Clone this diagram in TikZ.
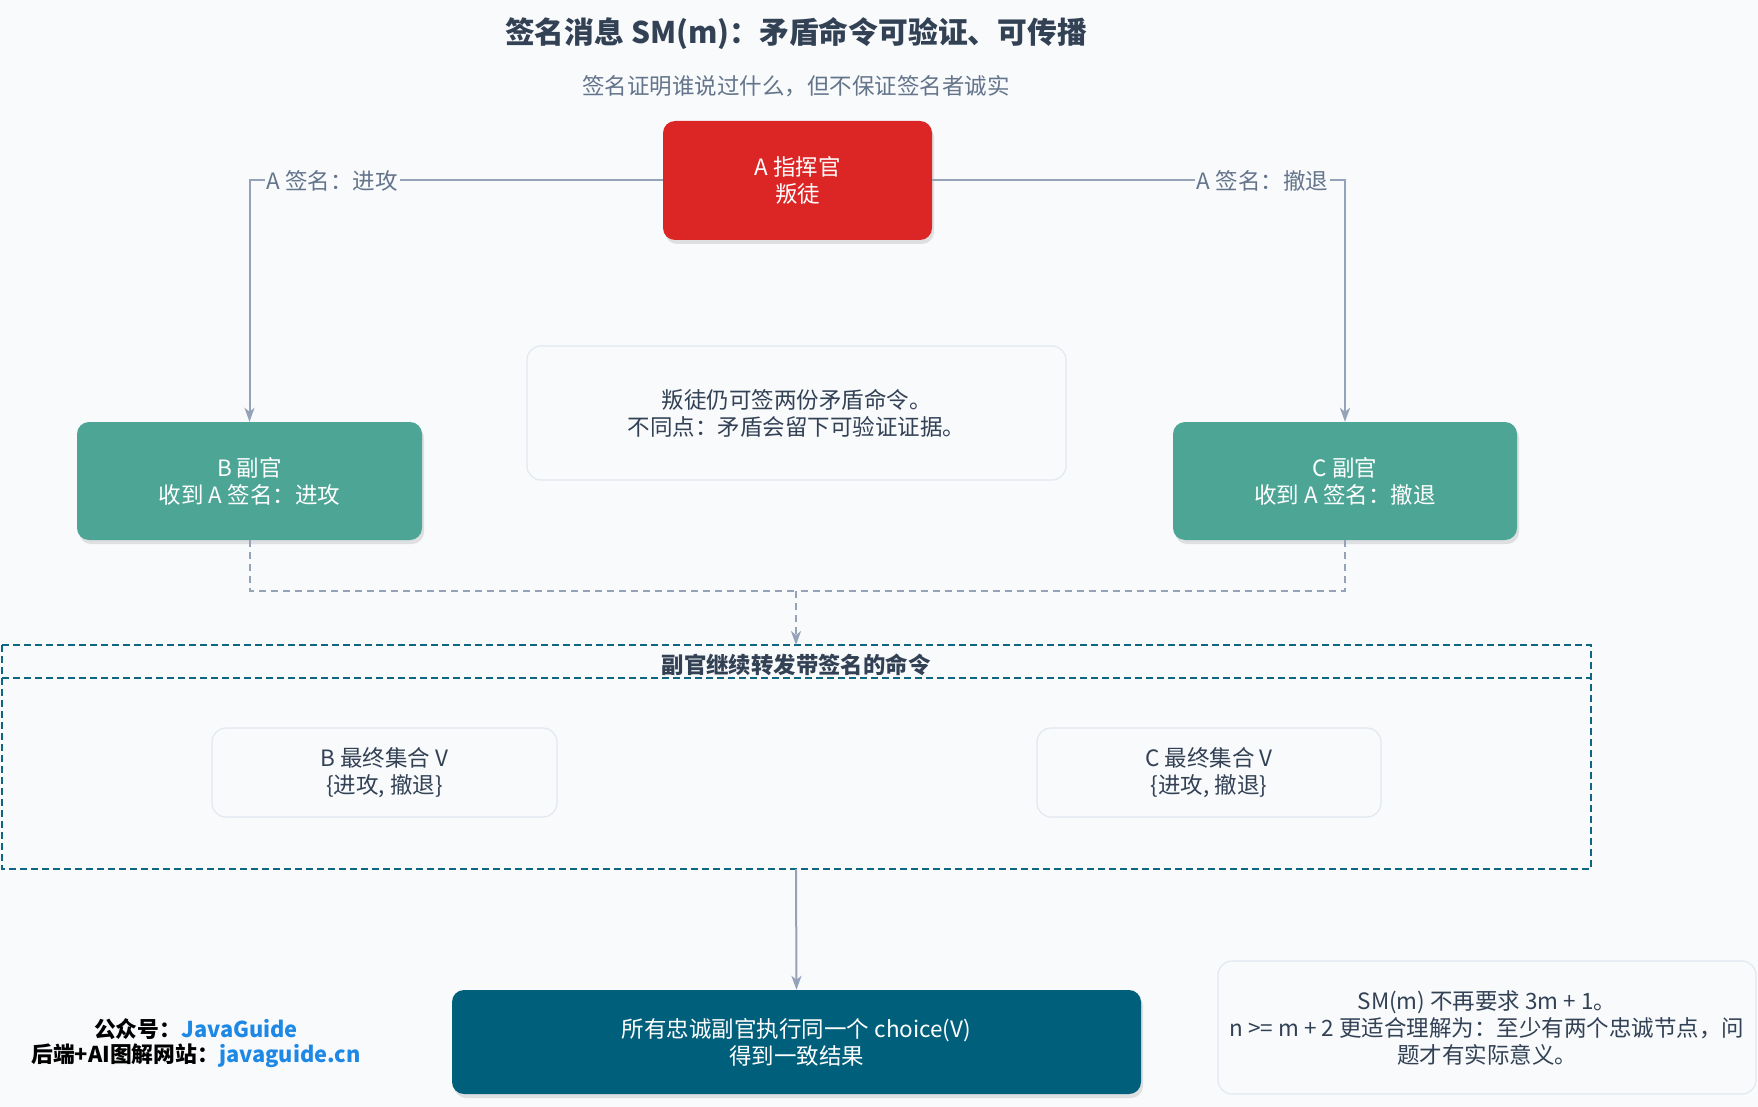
\documentclass[tikz,border=0pt]{standalone}
\usepackage{fontspec}
\setmainfont{Noto Sans CJK SC}
\usetikzlibrary{arrows.meta,shadows,positioning}
\definecolor{bg}{HTML}{F8FAFC}
\definecolor{txt}{HTML}{334155}
\definecolor{sub}{HTML}{64748B}
\definecolor{conn}{HTML}{94A3B8}
\definecolor{redbox}{HTML}{DC2626}
\definecolor{tealbox}{HTML}{4CA595}
\definecolor{darkteal}{HTML}{005F7B}
\definecolor{grpline}{HTML}{0E6683}
\definecolor{noteline}{HTML}{E2E8F0}
\definecolor{linkblue}{HTML}{1E88E5}
\tikzset{
  boxbase/.style={rounded corners=12pt, align=center, font=\fontsize{22.5}{27}\selectfont, inner sep=0pt,
     drop shadow={opacity=0.22, shadow xshift=2pt, shadow yshift=-4pt}},
  notebox/.style={rounded corners=14pt, draw=noteline, line width=1.2pt, fill=bg, align=center, text=txt,
     font=\fontsize{22.5}{27}\selectfont, inner sep=0pt},
  conline/.style={draw=conn, line width=2pt},
  arr/.style={-{Stealth[length=14pt,width=10pt,inset=4pt]}},
  lbl/.style={fill=bg, text=sub, font=\fontsize{22.5}{27}\selectfont, inner sep=2pt},
}
\begin{document}
\begin{tikzpicture}[x=1pt,y=-1pt]
\useasboundingbox[fill=bg] (0,0) rectangle (1758,1107);
% titles
\node[font=\bfseries\fontsize{29.8}{34}\selectfont, text=txt] (title) at (796,34) {签名消息 SM(m)：矛盾命令可验证、可传播};
\node[font=\fontsize{22.5}{27}\selectfont, text=sub] (subtitle) at (796,86) {签名证明谁说过什么，但不保证签名者诚实};
% main nodes
\node[boxbase, fill=redbox, text=white, minimum width=269pt, minimum height=119pt] (A) at (797.5,180.5) {A 指挥官\\叛徒};
\node[boxbase, fill=tealbox, text=white, minimum width=345pt, minimum height=118pt] (B) at (249.5,481) {B 副官\\收到 A 签名：进攻};
\node[boxbase, fill=tealbox, text=white, minimum width=344pt, minimum height=118pt] (C) at (1345,481) {C 副官\\收到 A 签名：撤退};
\node[notebox, minimum width=539pt, minimum height=134pt] (N1) at (796.5,413) {叛徒仍可签两份矛盾命令。\\不同点：矛盾会留下可验证证据。};
% group
\draw[grpline, line width=2.5pt, dash pattern=on 7pt off 4pt] (2,645) rectangle (1591,869);
\draw[grpline, line width=2.5pt, dash pattern=on 7pt off 4pt] (2,678) -- (1591,678);
\node[font=\bfseries\fontsize{22.4}{27}\selectfont, text=txt] (gtitle) at (796,665) {副官继续转发带签名的命令};
\coordinate (gtop) at (796,645);
\coordinate (gbot) at (796,869);
\node[notebox, minimum width=345pt, minimum height=89pt] (BV) at (384.5,772.5) {B 最终集合 V\\\{进攻, 撤退\}};
\node[notebox, minimum width=344pt, minimum height=89pt] (CV) at (1209,772.5) {C 最终集合 V\\\{进攻, 撤退\}};
% final
\node[boxbase, fill=darkteal, text=white, minimum width=689pt, minimum height=104pt] (F) at (796.5,1042) {所有忠诚副官执行同一个 choice(V)\\得到一致结果};
\node[notebox, minimum width=538pt, minimum height=133pt] (N2) at (1487,1027.5) {SM(m) 不再要求 3m + 1。\\n >= m + 2 更适合理解为：至少有两个忠诚节点，问\\题才有实际意义。};
% connectors
\draw[conline, arr] (A.west) -| node[lbl, pos=0.40] {A 签名：进攻} (B.north);
\draw[conline, arr] (A.east) -| node[lbl, pos=0.40] {A 签名：撤退} (C.north);
\coordinate (mid) at (796,591);
\draw[conline, dash pattern=on 7pt off 5pt] (B.south) |- (mid);
\draw[conline, dash pattern=on 7pt off 5pt] (C.south) |- (mid);
\draw[conline, dash pattern=on 7pt off 5pt, arr] (mid) -- (gtop);
\draw[conline, arr] (gbot) -- (F.north);
% watermark
\node[font=\bfseries\fontsize{21.8}{26}\selectfont, anchor=center] (wm1) at (196,1029) {公众号：\textcolor{linkblue}{JavaGuide}};
\node[font=\bfseries\fontsize{21.8}{26}\selectfont, anchor=center] (wm2) at (196,1056) {后端+AI图解网站：\textcolor{linkblue}{javaguide.cn}};
\end{tikzpicture}
\end{document}
